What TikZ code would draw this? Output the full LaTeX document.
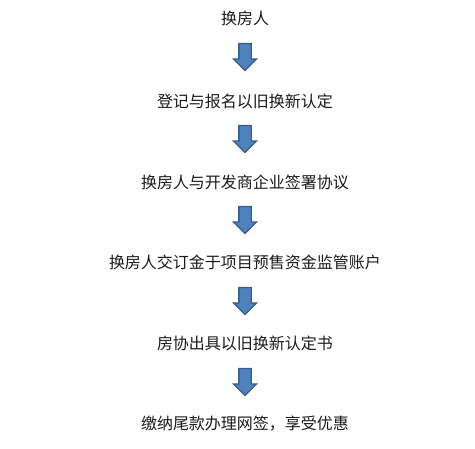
\documentclass[tikz,border=0pt]{standalone}
\usepackage{fontspec}
\usetikzlibrary{shapes.arrows}
\newfontfamily\cjk{Noto Sans CJK SC}
\definecolor{flowblue}{HTML}{4F81BD}
\definecolor{flowedge}{HTML}{385D8A}
\definecolor{flowink}{HTML}{1A1A1A}

\begin{document}
\begin{tikzpicture}[
  x=1pt,
  y=-1pt,
  every node/.style={font=\cjk\fontsize{16}{19}\selectfont, flowink},
  stepnode/.style={inner sep=0pt, anchor=center},
  downarrow/.style={single arrow, rotate=-90, draw=flowedge, fill=flowblue,
                    line width=1.3pt, inner sep=5.5pt, minimum height=27pt,
                    single arrow head extend=5.5pt, single arrow head indent=0pt}
]
  \useasboundingbox (0,0) rectangle (475,449);

  %% ---- 流程各步 -------------------------------------------------------
  \node[stepnode] (s1) at (245,18)  {换房人};
  \node[stepnode] (s2) at (245,101) {登记与报名以旧换新认定};
  \node[stepnode] (s3) at (245,182) {换房人与开发商企业签署协议};
  \node[stepnode] (s4) at (245,262) {换房人交订金于项目预售资金监管账户};
  \node[stepnode] (s5) at (245,343) {房协出具以旧换新认定书};
  \node[stepnode] (s6) at (245,424) {缴纳尾款办理网签，享受优惠};

  %% ---- 步与步之间的箭头 -----------------------------------------------
  \foreach \k/\y in {1/54, 2/136, 3/217, 4/298, 5/379}
    \node[downarrow] (a\k) at (245,\y) {};

\end{tikzpicture}
\end{document}
